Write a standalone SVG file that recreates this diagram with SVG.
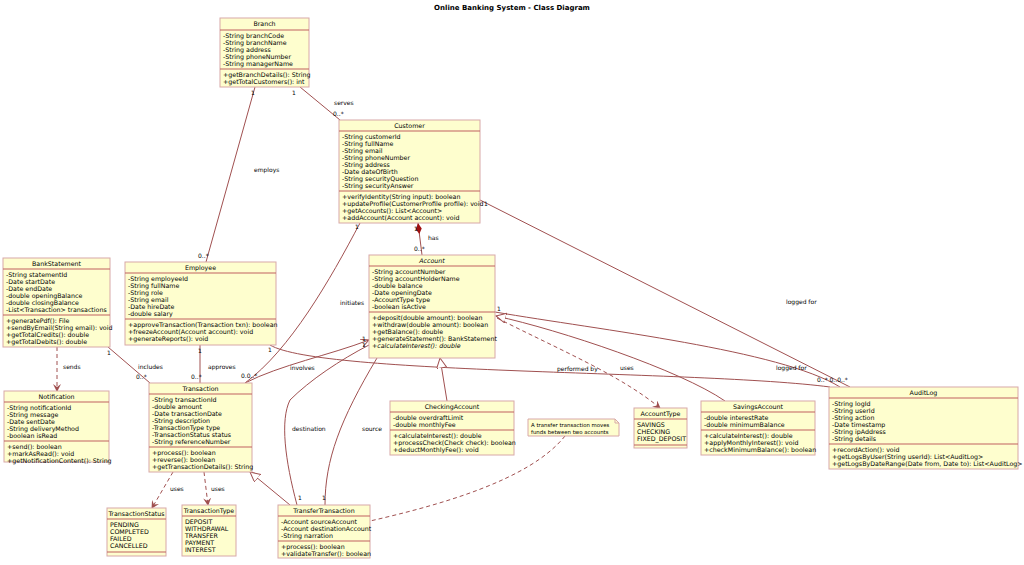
<svg xmlns="http://www.w3.org/2000/svg" width="1024" height="565" viewBox="0 0 1024 565">
<style>
text{font-family:"DejaVu Sans",sans-serif;font-size:6.3px;fill:#000}
.t{text-anchor:middle}
.box{fill:#fefece;stroke:#d8a8a8;stroke-width:1}
.dv{stroke:#c06060;stroke-width:1}
.c{fill:none;stroke:#a05050;stroke-width:1}
.d{fill:none;stroke:#a05050;stroke-width:1;stroke-dasharray:4,3}
.lb text{font-size:6px}
</style>
<defs>
<marker id="ar" markerWidth="8" markerHeight="8" refX="7" refY="4" orient="auto" markerUnits="userSpaceOnUse"><path d="M0,0 L8,4 L0,8 L3,4 Z" fill="#a05050"/></marker>
<marker id="tri" markerWidth="11" markerHeight="11" refX="10" refY="5" orient="auto" markerUnits="userSpaceOnUse"><path d="M0,0 L10,5 L0,10 Z" fill="#fff" stroke="#a05050"/></marker>
<marker id="dia" markerWidth="12" markerHeight="8" refX="11" refY="4" orient="auto" markerUnits="userSpaceOnUse"><path d="M0,4 L5,1 L11,4 L5,7 Z" fill="#a01010"/></marker>
<marker id="op" markerWidth="9" markerHeight="9" refX="8" refY="4" orient="auto" markerUnits="userSpaceOnUse"><path d="M0,0 L8,4 L0,8" fill="none" stroke="#a05050"/></marker>
</defs>
<text x="512" y="10" class="t" style="font-weight:bold;font-size:7px">Online Banking System - Class Diagram</text>

<g id="connectors">
<path class="c" d="M300,87 L340,120"/>
<path class="c" d="M255,87 L206,262"/>
<path class="c" d="M422,255 L418,223" marker-end="url(#dia)"/>
<path class="c" d="M360,223 C330,280 290,350 245,383"/>
<path class="c" d="M480,200 L850,387"/>
<path class="c" d="M495,312 C600,330 780,350 840,387"/>
<path class="c" d="M270,345 C320,375 700,370 830,387"/>
<path class="c" d="M725,401 C680,370 560,330 496,316" marker-end="url(#tri)"/>
<path class="c" d="M447,401 L440,358" marker-end="url(#tri)"/>
<path class="d" d="M497,318 C560,350 620,375 660,408" marker-end="url(#ar)"/>
<path class="c" d="M245,383 C280,365 330,355 369,340" marker-end="url(#op)"/>
<path class="c" d="M297,505 C285,460 280,420 290,400 C310,380 340,360 369,345"/>
<path class="c" d="M325,505 C325,460 340,420 377,358"/>
<path class="c" d="M108,347 L150,383"/>
<path class="c" d="M200,345 L200,383"/>
<path class="d" d="M57,347 L57,391" marker-end="url(#ar)"/>
<path class="d" d="M173,472 L152,508" marker-end="url(#ar)"/>
<path class="d" d="M204,472 L208,505" marker-end="url(#ar)"/>
<path class="c" d="M290,505 L250,472" marker-end="url(#tri)"/>
<path class="d" d="M565,436 C530,480 440,505 370,521"/>
<g class="lb">
<text x="292" y="95">1</text><text x="333" y="116">0..*</text><text x="334" y="105">serves</text>
<text x="251" y="95">1</text><text x="198" y="258">0..*</text><text x="254" y="172">employs</text>
<text x="414" y="231">1</text><text x="414" y="251">0..*</text><text x="428" y="240">has</text>
<text x="355" y="229">1</text><text x="340" y="305">initiates</text>
<text x="484" y="206">1</text><text x="786" y="304">logged for</text>
<text x="497" y="311">1</text><text x="776" y="370">logged for</text>
<text x="268" y="352">1</text><text x="557" y="371">performed by</text><text x="817" y="382">0..* 0..0..*</text>
<text x="620" y="370">uses</text>
<text x="362" y="341">1</text><text x="241" y="378">0.0..*</text><text x="290" y="370">involves</text>
<text x="298" y="500">1</text><text x="362" y="347">1</text><text x="292" y="431">destination</text>
<text x="322" y="500">1</text><text x="374" y="358">1</text><text x="362" y="431">source</text>
<text x="107" y="355">1</text><text x="136" y="379">0..*</text><text x="138" y="369">includes</text>
<text x="198" y="353">1</text><text x="191" y="379">0..*</text><text x="208" y="369">approves</text>
<text x="63" y="369">sends</text>
<text x="170" y="491">uses</text><text x="211" y="491">uses</text>
</g>
</g>

<g id="Branch"><rect class="box" x="220" y="18" width="89" height="69"/><text class="t" x="264.5" y="26">Branch</text><line class="dv" x1="220" y1="30" x2="309" y2="30"/>
<text x="223" y="38">-String branchCode</text><text x="223" y="45">-String branchName</text><text x="223" y="52">-String address</text><text x="223" y="59">-String phoneNumber</text><text x="223" y="66">-String managerName</text><line class="dv" x1="220" y1="69" x2="309" y2="69"/>
<text x="223" y="77">+getBranchDetails(): String</text><text x="223" y="84">+getTotalCustomers(): int</text></g>

<g id="Customer"><rect class="box" x="339" y="120" width="141" height="103"/><text class="t" x="409.5" y="128">Customer</text><line class="dv" x1="339" y1="131" x2="480" y2="131"/>
<text x="342" y="139">-String customerId</text><text x="342" y="146">-String fullName</text><text x="342" y="153">-String email</text><text x="342" y="160">-String phoneNumber</text><text x="342" y="167">-String address</text><text x="342" y="174">-Date dateOfBirth</text><text x="342" y="181">-String securityQuestion</text><text x="342" y="188">-String securityAnswer</text><line class="dv" x1="339" y1="191" x2="480" y2="191"/>
<text x="342" y="199">+verifyIdentity(String input): boolean</text><text x="342" y="206">+updateProfile(CustomerProfile profile): void</text><text x="342" y="213">+getAccounts(): List&lt;Account&gt;</text><text x="342" y="220">+addAccount(Account account): void</text></g>

<g id="Account"><rect class="box" x="369" y="255" width="126" height="103"/><text class="t" x="432" y="263" font-style="italic">Account</text><line class="dv" x1="369" y1="266" x2="495" y2="266"/>
<text x="372" y="274">-String accountNumber</text><text x="372" y="281">-String accountHolderName</text><text x="372" y="288">-double balance</text><text x="372" y="295">-Date openingDate</text><text x="372" y="302">-AccountType type</text><text x="372" y="309">-boolean isActive</text><line class="dv" x1="369" y1="312" x2="495" y2="312"/>
<text x="372" y="320">+deposit(double amount): boolean</text><text x="372" y="327">+withdraw(double amount): boolean</text><text x="372" y="334">+getBalance(): double</text><text x="372" y="341">+generateStatement(): BankStatement</text><text x="372" y="348" font-style="italic">+calculateInterest(): double</text></g>

<g id="Employee"><rect class="box" x="125" y="262" width="151" height="83"/><text class="t" x="200.5" y="270">Employee</text><line class="dv" x1="125" y1="273" x2="276" y2="273"/>
<text x="128" y="281">-String employeeId</text><text x="128" y="288">-String fullName</text><text x="128" y="295">-String role</text><text x="128" y="302">-String email</text><text x="128" y="309">-Date hireDate</text><text x="128" y="316">-double salary</text><line class="dv" x1="125" y1="319" x2="276" y2="319"/>
<text x="128" y="327">+approveTransaction(Transaction txn): boolean</text><text x="128" y="334">+freezeAccount(Account account): void</text><text x="128" y="341">+generateReports(): void</text></g>

<g id="BankStatement"><rect class="box" x="3" y="258" width="107" height="89"/><text class="t" x="56.5" y="266">BankStatement</text><line class="dv" x1="3" y1="269" x2="110" y2="269"/>
<text x="6" y="277">-String statementId</text><text x="6" y="284">-Date startDate</text><text x="6" y="291">-Date endDate</text><text x="6" y="298">-double openingBalance</text><text x="6" y="305">-double closingBalance</text><text x="6" y="312">-List&lt;Transaction&gt; transactions</text><line class="dv" x1="3" y1="315" x2="110" y2="315"/>
<text x="6" y="323">+generatePdf(): File</text><text x="6" y="330">+sendByEmail(String email): void</text><text x="6" y="337">+getTotalCredits(): double</text><text x="6" y="344">+getTotalDebits(): double</text></g>

<g id="Notification"><rect class="box" x="4" y="391" width="105" height="71"/><text class="t" x="56.5" y="399">Notification</text><line class="dv" x1="4" y1="402" x2="109" y2="402"/>
<text x="7" y="410">-String notificationId</text><text x="7" y="417">-String message</text><text x="7" y="424">-Date sentDate</text><text x="7" y="431">-String deliveryMethod</text><text x="7" y="438">-boolean isRead</text><line class="dv" x1="4" y1="441" x2="109" y2="441"/>
<text x="7" y="449">+send(): boolean</text><text x="7" y="456">+markAsRead(): void</text><text x="7" y="463">+getNotificationContent(): String</text></g>

<g id="Transaction"><rect class="box" x="149" y="383" width="103" height="89"/><text class="t" x="200.5" y="391">Transaction</text><line class="dv" x1="149" y1="394" x2="252" y2="394"/>
<text x="152" y="402">-String transactionId</text><text x="152" y="409">-double amount</text><text x="152" y="416">-Date transactionDate</text><text x="152" y="423">-String description</text><text x="152" y="430">-TransactionType type</text><text x="152" y="437">-TransactionStatus status</text><text x="152" y="444">-String referenceNumber</text><line class="dv" x1="149" y1="447" x2="252" y2="447"/>
<text x="152" y="455">+process(): boolean</text><text x="152" y="462">+reverse(): boolean</text><text x="152" y="469">+getTransactionDetails(): String</text></g>

<g id="TransactionStatus"><rect class="box" x="107" y="508" width="59" height="48"/><text class="t" x="136.5" y="516">TransactionStatus</text><line class="dv" x1="107" y1="519" x2="166" y2="519"/>
<text x="110" y="527">PENDING</text><text x="110" y="534">COMPLETED</text><text x="110" y="541">FAILED</text><text x="110" y="548">CANCELLED</text><line class="dv" x1="107" y1="552" x2="166" y2="552"/></g>

<g id="TransactionType"><rect class="box" x="182" y="505" width="54" height="51"/><text class="t" x="209" y="513">TransactionType</text><line class="dv" x1="182" y1="516" x2="236" y2="516"/>
<text x="185" y="524">DEPOSIT</text><text x="185" y="531">WITHDRAWAL</text><text x="185" y="538">TRANSFER</text><text x="185" y="545">PAYMENT</text><text x="185" y="552">INTEREST</text></g>

<g id="TransferTransaction"><rect class="box" x="278" y="505" width="92" height="53"/><text class="t" x="324" y="513">TransferTransaction</text><line class="dv" x1="278" y1="516" x2="370" y2="516"/>
<text x="281" y="524">-Account sourceAccount</text><text x="281" y="531">-Account destinationAccount</text><text x="281" y="538">-String narration</text><line class="dv" x1="278" y1="541" x2="370" y2="541"/>
<text x="281" y="549">+process(): boolean</text><text x="281" y="556">+validateTransfer(): boolean</text></g>

<g id="CheckingAccount"><rect class="box" x="390" y="401" width="124" height="54"/><text class="t" x="452" y="409">CheckingAccount</text><line class="dv" x1="390" y1="412" x2="514" y2="412"/>
<text x="393" y="420">-double overdraftLimit</text><text x="393" y="427">-double monthlyFee</text><line class="dv" x1="390" y1="430" x2="514" y2="430"/>
<text x="393" y="438">+calculateInterest(): double</text><text x="393" y="445">+processCheck(Check check): boolean</text><text x="393" y="452">+deductMonthlyFee(): void</text></g>

<g id="Note"><path d="M528,419 H615 L619,423 V436 H528 Z" fill="#fefece" stroke="#d8a8a8"/><path d="M615,419 V423 H619" fill="none" stroke="#d8a8a8"/>
<text x="531" y="427" style="font-size:5.4px">A transfer transaction moves</text><text x="531" y="434" style="font-size:5.4px">funds between two accounts</text></g>

<g id="AccountType"><rect class="box" x="634" y="408" width="53" height="40"/><text class="t" x="660.5" y="416">AccountType</text><line class="dv" x1="634" y1="419" x2="687" y2="419"/>
<text x="637" y="427">SAVINGS</text><text x="637" y="434">CHECKING</text><text x="637" y="441">FIXED_DEPOSIT</text><line class="dv" x1="634" y1="445" x2="687" y2="445"/></g>

<g id="SavingsAccount"><rect class="box" x="701" y="401" width="114" height="54"/><text class="t" x="758" y="409">SavingsAccount</text><line class="dv" x1="701" y1="412" x2="815" y2="412"/>
<text x="704" y="420">-double interestRate</text><text x="704" y="427">-double minimumBalance</text><line class="dv" x1="701" y1="430" x2="815" y2="430"/>
<text x="704" y="438">+calculateInterest(): double</text><text x="704" y="445">+applyMonthlyInterest(): void</text><text x="704" y="452">+checkMinimumBalance(): boolean</text></g>

<g id="AuditLog"><rect class="box" x="829" y="387" width="189" height="82"/><text class="t" x="923.5" y="395">AuditLog</text><line class="dv" x1="829" y1="398" x2="1018" y2="398"/>
<text x="832" y="406">-String logId</text><text x="832" y="413">-String userId</text><text x="832" y="420">-String action</text><text x="832" y="427">-Date timestamp</text><text x="832" y="434">-String ipAddress</text><text x="832" y="441">-String details</text><line class="dv" x1="829" y1="444" x2="1018" y2="444"/>
<text x="832" y="452">+recordAction(): void</text><text x="832" y="459">+getLogsByUser(String userId): List&lt;AuditLog&gt;</text><text x="832" y="466">+getLogsByDateRange(Date from, Date to): List&lt;AuditLog&gt;</text></g>
</svg>
